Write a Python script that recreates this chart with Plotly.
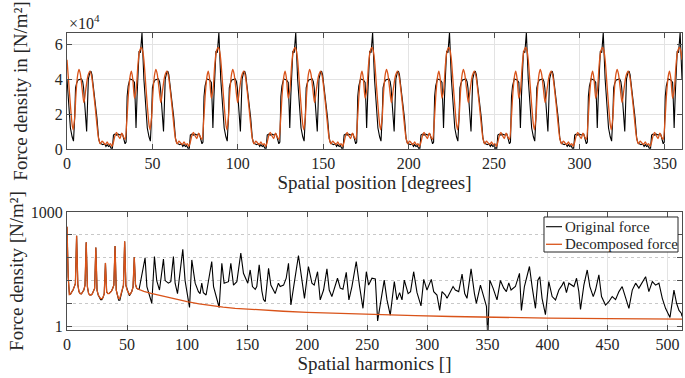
import plotly.graph_objects as go

# ---------------- Top panel data (one 45° period; repeats 8x) ----------------
period_len = 45
n_periods = 8
orig_period_deg = [0, 1, 2, 3, 3.8, 4.5, 5.0, 5.6, 6.5, 8.5, 9.2, 9.7, 10.4, 11.0, 11.5, 12.0, 12.5,
                   13.3, 14.0, 14.6, 15.5, 16.5, 17.5, 18.5, 19.2, 20, 21, 22, 22.8, 23.5, 24.3, 25,
                   25.8, 26.6, 27.2, 28, 29, 30, 31, 32.5, 33.2, 34, 34.6, 35.2, 35.8, 36.8, 38.5,
                   39.5, 40.0, 40.4, 41.0, 41.6, 42.2, 43.0, 43.9]
orig_period_val = [4.0, 2.3, 1.2, 0.7, 0.45, 1.8, 3.5, 3.75, 3.95, 4.0, 3.85, 3.5, 2.7, 1.6, 1.0, 2.5, 4.0,
                   4.35, 4.45, 4.25, 3.5, 2.6, 1.8, 0.6, 0.35, 0.3, 0.25, 0.3, 0.15, 0.25, 0.15, 0.2,
                   0.05, 0.05, 0.8, 0.85, 0.8, 0.85, 0.8, 0.85, 0.5, 0.3, 0.4, 3.0, 3.6, 4.0, 3.95,
                   3.8, 2.5, 1.2, 3.0, 4.8, 5.6, 5.5, 6.65]  # x 1e4 N/m²
dec_period_deg = [0, 1, 2, 3, 3.6, 4.5, 5.3, 6.2, 7.0, 7.8, 8.8, 9.9, 11.0, 12.3, 13.5, 14.5, 15.5,
                  16.5, 17.5, 18.5, 19.5, 20.5, 21.5, 22.5, 23.5, 24.5, 25.5, 26.3, 27.2, 28.2, 29.0,
                  30.0, 31.0, 32.0, 33.0, 34.0, 35.0, 36.0, 37.0, 37.7, 38.5, 39.5, 40.5, 41.5, 42.5,
                  43.6, 44.3]
dec_period_val = [5.1, 3.8, 2.5, 1.4, 1.1, 1.8, 3.2, 4.2, 4.55, 4.3, 3.5, 2.65, 3.4, 4.2, 4.45, 4.1, 3.3,
                  2.4, 1.4, 0.6, 0.3, 0.45, 0.35, 0.25, 0.4, 0.25, 0.3, 0.15, 0.4, 0.8, 0.95,
                  0.75, 0.6, 0.9, 0.7, 0.55, 1.6, 3.2, 4.2, 4.45, 4.0, 2.9, 3.4, 4.8, 5.6,
                  5.8, 5.6]  # x 1e4 N/m²

top_x_ticks = [0, 50, 100, 150, 200, 250, 300, 350]
top_y_ticks = [0, 20000, 40000, 60000]
top_y_ticktext = ["0", "2", "4", "6"]

# ---------------- Bottom panel data (spectrum) ----------------
low_h = list(range(0, 61))
dec_low_val = [410, 20, 6.8, 7.0, 8.0, 8.9, 10.8, 13.2, 238, 12.5, 8.0, 7.2, 7.1, 7.7, 8.9, 12, 160,
               10.8, 7.2, 6.6, 6.6, 7.0, 8.0, 9.8, 117, 8.9, 6.6, 5.9, 5.3, 5.3, 5.7, 7.2, 46,
               8.0, 7.2, 7.2, 7.7, 8.3, 9.8, 12, 127, 8.9, 6.6, 5.3, 5.5, 7.2, 8.9, 12, 169,
               12, 8.9, 7.7, 6.8, 7.2, 8.3, 10.8, 65, 12.5, 10.0, 9.5, 9.2]
orig_low_val = [410, 20, 6.8, 7.0, 8.0, 8.9, 10.8, 13.2, 238, 12.5, 8.0, 7.2, 7.1, 7.7, 8.9, 12, 160,
                10.8, 7.2, 6.6, 6.6, 7.0, 8.0, 9.8, 117, 8.9, 6.6, 5.9, 5.0, 5.0, 5.7, 7.2, 46,
                8.0, 7.2, 7.2, 7.7, 8.3, 9.8, 12, 127, 8.9, 6.6, 4.8, 4.8, 7.2, 8.9, 12, 169,
                12, 8.9, 7.7, 6.3, 7.2, 8.3, 10.8, 65, 12.5, 10.0, 9.5, 9.2]
dec_tail_h = [64, 70, 80, 90, 100, 110, 120, 130, 140, 150, 160, 180, 200, 230, 260, 290, 320,
              360, 400, 450, 512]
dec_tail_val = [8.2, 7.3, 6.1, 5.1, 4.4, 3.85, 3.45, 3.15, 2.95, 2.8, 2.68, 2.47, 2.32, 2.15, 2.02,
                1.9, 1.8, 1.7, 1.63, 1.58, 1.53]

orig_tail_h = [65, 66.5, 70.6, 72.8, 74.7, 77, 80.3, 81.7, 84.4, 86.4, 88.6, 90, 92, 96.4, 98.3, 102,
               103.9, 106.7, 109.4, 110.8, 112.2, 113.5, 115.8, 120.5, 122, 126.7, 128.9, 130.8,
               134.4, 136.4, 138.6, 141.4, 144.7, 146.9, 150.5, 152.5, 154.4, 156.7, 158, 160,
               162.2, 163.6, 165, 167.8, 169.7, 173.3, 176, 177.5, 180.3, 182.5, 184.4, 186.4,
               190, 192.7, 195.5, 197.7, 201, 203.9, 205.8, 208.6, 210.8, 213.6, 216.4, 218.3,
               220.5, 223.3, 225.2, 227.5, 229.7, 232.5, 234.7, 237.2, 240.8, 243.6, 246.4,
               249.2, 251.1, 253.9, 256.7, 258.6, 260.8, 264.1, 266.4, 269.1, 272.5, 274.7,
               276.9, 278.9, 280.8, 284, 286, 288.6, 291.4, 294.7, 297, 299.7, 303.3, 305.3, 308,
               310.3, 312.2, 313.6, 315, 316.4, 319.2, 321.4, 323.3, 326.1, 328.9, 331.1, 333,
               336.4, 339.2, 340.8, 344.2, 346.1, 349.2, 350.3, 352, 354.7, 358, 360.8, 363.6,
               365.8, 367.8, 369.7, 373.3, 376.7, 378.3, 380.8, 385, 387.2, 390, 392, 393.6,
               395.5, 398.3, 401.1, 403.9, 406.7, 409.5, 412.2, 413.6, 415.8, 417.8, 422, 424.2,
               426.1, 427.5, 430.3, 433.1, 435.3, 438.1, 440, 442.8, 445, 448.3, 451.1, 453.9,
               456.7, 459.5, 462.2, 465, 467.8, 470.6, 473.4, 476.1, 478.9, 481.7, 484.4, 487.3,
               490, 492.8, 495.6, 498.3, 502, 503.9, 505.3, 507.5, 509.5, 511.4, 512]
orig_tail_val = [62, 11, 4.0, 68, 15.8, 8.9, 58, 15.8, 13.5, 14.8, 68, 13.5, 7.2, 105, 15.8, 3.1,
                 55, 13.5, 8.1, 7.2, 13.5, 7.6, 6.6, 50, 11, 3.1, 45, 13.5,
                 14.8, 45, 12, 14.8, 83, 24.5, 13.5, 30, 11, 9.3, 11, 41,
                 8.5, 5.0, 4.4, 33, 12, 7.2, 13.5, 11, 12, 18.2, 45, 3.6,
                 20, 72, 17, 5.4, 37, 13.5, 12, 27, 4.9, 8.9, 32, 8.9,
                 6.0, 12, 18.2, 10, 9.3, 26, 4.9, 11, 50, 11, 2.95,
                 27, 12, 18.2, 17.5, 1.38, 4.0, 16.2, 4.9, 1.95, 14.8, 4.9,
                 7.6, 4.9, 16.2, 7.2, 8.1, 27, 7.6, 3.4, 17, 8.9, 17, 8.1, 6.6,
                 2.6, 8.1, 7.2, 6.6, 5.4, 8.1, 11, 8.9, 8.1, 23.4, 7.2, 5.4,
                 32, 7.2, 4.0, 12, 7.2, 3.3, 0.5, 16.2, 10, 4.9, 15.8, 10,
                 8.1, 13.8, 8.9, 11, 24.5, 2.6, 11, 37, 11, 2.95, 16.2, 20,
                 5.4, 2.0, 14.8, 6.0, 4.9, 8.9, 12, 14.8, 7.6, 13.5, 11, 18.2,
                 8.1, 2.75, 12, 30, 11, 6.0, 8.9, 22.4, 6.0, 3.6, 4.4, 6.0,
                 5.0, 8.1, 11, 5.4, 2.95, 8.9, 13.5, 10, 14.8, 20, 8.1, 14.8,
                 12, 13.5, 5.4, 2.95, 1.7, 5.4, 8.9, 4.0, 2.6, 2.2, 1.8]

bottom_x_ticks = [0, 50, 100, 150, 200, 250, 300, 350, 400, 450, 500]
bottom_y_ticks = [1, 1000]
bottom_y_ticktext = ["1", "1000"]
bottom_y_minor = [3.98, 15.85, 63.1, 251.2]

legend_names = ["Original force", "Decomposed force"]

# ---------------- Build series ----------------
def tile(deg, val):
    xs, ys = [], []
    for k in range(n_periods):
        for d, v in zip(deg, val):
            xs.append(k * period_len + d)
            ys.append(v * 1e4)
    xs.append(n_periods * period_len)
    ys.append(val[0] * 1e4)
    return xs, ys

top_orig_x, top_orig_y = tile(orig_period_deg, orig_period_val)
top_dec_x, top_dec_y = tile(dec_period_deg, dec_period_val)

orig_h = low_h + orig_tail_h
orig_val = orig_low_val + orig_tail_val
dec_h = low_h + dec_tail_h
dec_val = dec_low_val + dec_tail_val

BLACK = "#000000"
ORANGE = "#D95319"
FONT = "Liberation Serif, Times New Roman, serif"
TXT = "#262626"

fig = go.Figure()
fig.add_trace(go.Scatter(x=top_orig_x, y=top_orig_y, mode="lines", line=dict(color=BLACK, width=1.1),
                         showlegend=False, xaxis="x", yaxis="y"))
fig.add_trace(go.Scatter(x=top_dec_x, y=top_dec_y, mode="lines",
                         line=dict(color=ORANGE, width=1.3, shape="spline", smoothing=0.8),
                         showlegend=False, xaxis="x", yaxis="y"))
fig.add_trace(go.Scatter(x=orig_h, y=orig_val, mode="lines", line=dict(color=BLACK, width=1.1),
                         name=legend_names[0], showlegend=False, xaxis="x2", yaxis="y2"))
fig.add_trace(go.Scatter(x=dec_h, y=dec_val, mode="lines", line=dict(color=ORANGE, width=1.3),
                         name=legend_names[1], showlegend=False, xaxis="x2", yaxis="y2"))

axis_common = dict(showline=True, linecolor="#4d4d4d", linewidth=1, mirror="ticks",
                   ticks="inside", ticklen=5, tickcolor="#4d4d4d", zeroline=False,
                   showgrid=True, gridcolor="#e3e3e3", gridwidth=1, automargin=False,
                   tickfont=dict(family=FONT, size=16, color=TXT))
title_font = dict(family=FONT, size=19, color=TXT)

# legend box (drawn in the bottom panel's paper area, MATLAB-style compact legend)
lg_x0, lg_x1, lg_y0, lg_y1 = 0.7756, 0.9935, 0.2626, 0.3805
lg_line_x0, lg_line_x1 = 0.7789, 0.8049
lg_rows = [0.3478, 0.2886]
shapes = [dict(type="rect", xref="paper", yref="paper", x0=lg_x0, x1=lg_x1, y0=lg_y0, y1=lg_y1,
               line=dict(color=TXT, width=1), fillcolor="white", layer="above")]
annotations = [dict(text="×10<sup>4</sup>", xref="paper", yref="paper", x=0, y=1.037,
                    xanchor="left", yanchor="middle", showarrow=False,
                    font=dict(family=FONT, size=16, color=TXT))]
for name, col, wid, yy in zip(legend_names, [BLACK, ORANGE], [1.1, 1.3], lg_rows):
    shapes.append(dict(type="line", xref="paper", yref="paper", x0=lg_line_x0, x1=lg_line_x1,
                       y0=yy, y1=yy, line=dict(color=col, width=wid), layer="above"))
    annotations.append(dict(text=name, xref="paper", yref="paper", x=lg_line_x1 + 0.002, y=yy,
                            xanchor="left", yanchor="middle", showarrow=False,
                            font=dict(family=FONT, size=15, color=TXT)))

fig.update_layout(
    template="none",
    width=685, height=378,
    margin=dict(l=67, r=3, t=33, b=48),
    paper_bgcolor="white", plot_bgcolor="white",
    font=dict(family=FONT, color=TXT),
    showlegend=False,
    xaxis=dict(axis_common, domain=[0, 1], anchor="y", range=[0, 360], tickvals=top_x_ticks,
               title=dict(text="Spatial position [degrees]", font=title_font, standoff=4)),
    yaxis=dict(axis_common, domain=[0.6094, 1], anchor="x", range=[0, 66300],
               tickvals=top_y_ticks, ticktext=top_y_ticktext,
               title=dict(text="Force density in [N/m²]", font=title_font, standoff=22)),
    xaxis2=dict(axis_common, domain=[0, 1], anchor="y2", range=[0, 512], tickvals=bottom_x_ticks,
                title=dict(text="Spatial harmonics []", font=title_font, standoff=4)),
    yaxis2=dict(axis_common, domain=[0, 0.3973], anchor="x2", type="log", range=[-0.1, 3.0],
                tickvals=bottom_y_ticks, ticktext=bottom_y_ticktext,
                minor=dict(tickvals=bottom_y_minor, ticks="inside", ticklen=5, tickcolor="#4d4d4d",
                           showgrid=True, griddash="dot", gridcolor="#c8c8c8", gridwidth=1),
                title=dict(text="Force density [N/m²]", font=title_font, standoff=2)),
    shapes=shapes,
    annotations=annotations,
)

fig.write_html("out.html", config={"displayModeBar": False},
               post_script="document.body.style.margin='0px';")
